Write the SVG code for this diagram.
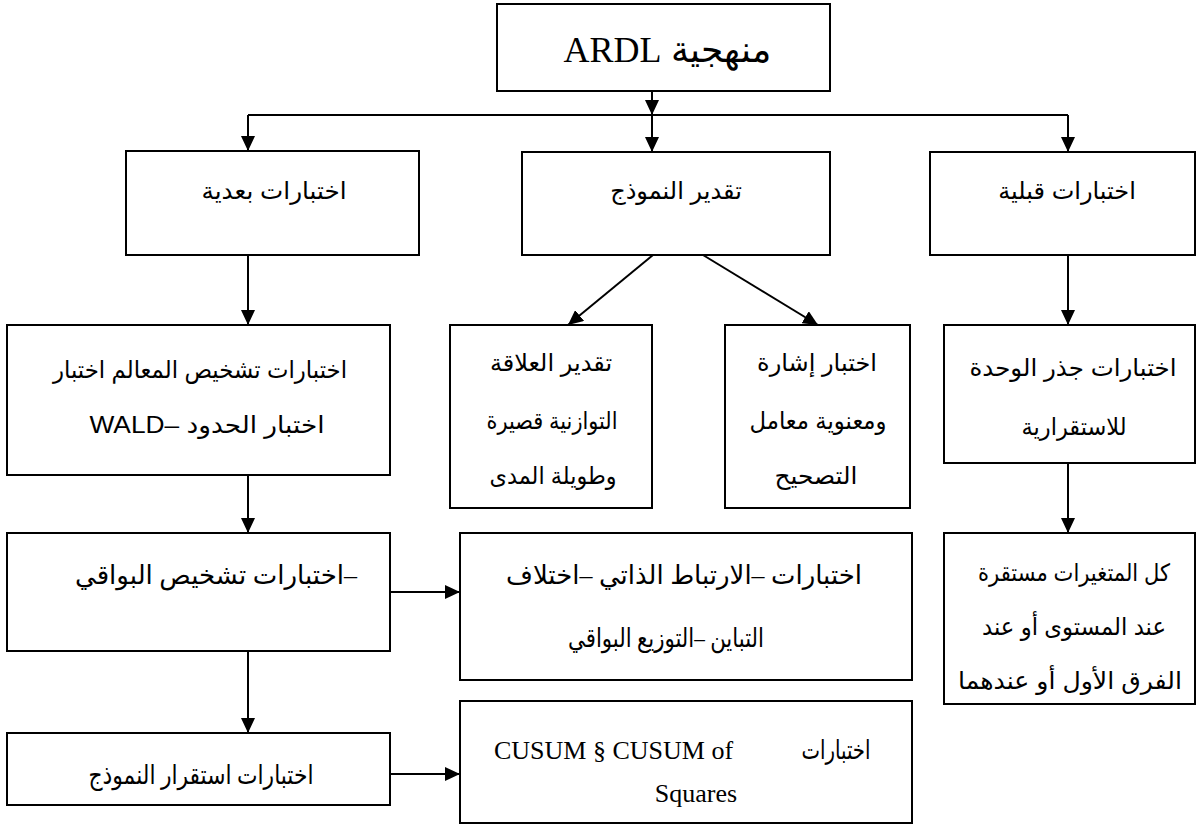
<svg xmlns="http://www.w3.org/2000/svg" width="1200" height="827" viewBox="0 0 1200 827">
  <style>
    .box { fill: #ffffff; stroke: #000000; stroke-width: 2; }
    .link { fill: none; stroke: #000000; stroke-width: 2; marker-end: url(#arrow); }
    .plain { fill: none; stroke: #000000; stroke-width: 2; }
    .ar { font-family: "Liberation Sans", "DejaVu Sans", sans-serif; font-size: 24px; fill: #000000; text-anchor: middle; direction: rtl; unicode-bidi: embed; }
    .arc { font-family: "Liberation Serif", "DejaVu Sans", serif; font-size: 26px; fill: #000000; text-anchor: middle; direction: rtl; unicode-bidi: embed; }
    .lat { font-family: "Liberation Serif", "DejaVu Serif", serif; font-size: 26px; fill: #000000; }
    .title { font-family: "Liberation Serif", "DejaVu Serif", serif; font-size: 36px; fill: #000000; text-anchor: middle; direction: rtl; unicode-bidi: embed; }
  </style>
  <defs>
    <marker id="arrow" markerUnits="userSpaceOnUse" markerWidth="16" markerHeight="14" refX="15" refY="7" orient="auto">
      <path d="M0,0 L15,7 L0,14 Z" fill="#000000"/>
    </marker>
  </defs>

  <rect width="1200" height="827" fill="#ffffff"/>

  <!-- connectors -->
  <g id="connectors">
    <line class="link" x1="652" y1="91" x2="652" y2="115"/>
    <line class="plain" x1="248" y1="115" x2="1068" y2="115"/>
    <line class="link" x1="248" y1="115" x2="248" y2="151"/>
    <line class="link" x1="652" y1="115" x2="652" y2="152"/>
    <line class="link" x1="1068" y1="115" x2="1068" y2="152"/>
    <line class="link" x1="248" y1="255" x2="248" y2="325"/>
    <line class="link" x1="653" y1="255" x2="568" y2="325"/>
    <line class="link" x1="703" y1="255" x2="818" y2="325"/>
    <line class="link" x1="1068" y1="255" x2="1068" y2="325"/>
    <line class="link" x1="248" y1="475" x2="248" y2="533"/>
    <line class="link" x1="1068" y1="463" x2="1068" y2="533"/>
    <line class="link" x1="390" y1="592" x2="460" y2="592"/>
    <line class="link" x1="248" y1="651" x2="248" y2="733"/>
    <line class="link" x1="390" y1="774" x2="460" y2="774"/>
  </g>

  <!-- root -->
  <g id="node-ardl">
    <rect class="box" x="497" y="4" width="333" height="87"/>
    <text class="title" x="667" y="62">منهجية ARDL</text>
  </g>

  <!-- second level -->
  <g id="node-post-tests">
    <rect class="box" x="126" y="151" width="293" height="104"/>
    <text class="ar" x="274" y="199" textLength="145" lengthAdjust="spacingAndGlyphs">اختبارات بعدية</text>
  </g>
  <g id="node-estimation">
    <rect class="box" x="522" y="152" width="308" height="103"/>
    <text class="ar" x="676" y="199">تقدير النموذج</text>
  </g>
  <g id="node-pre-tests">
    <rect class="box" x="930" y="152" width="265" height="103"/>
    <text class="ar" x="1067" y="199">اختبارات قبلية</text>
  </g>

  <!-- third level -->
  <g id="node-params">
    <rect class="box" x="7" y="325" width="383" height="150"/>
    <text class="ar" x="200" y="378" textLength="294" lengthAdjust="spacingAndGlyphs">اختبارات تشخيص المعالم اختبار</text>
    <text class="ar" x="207" y="433" style="direction: ltr;" textLength="235" lengthAdjust="spacingAndGlyphs">WALD– اختبار الحدود</text>
  </g>
  <g id="node-relation">
    <rect class="box" x="450" y="325" width="202" height="183"/>
    <text class="ar" x="551" y="371">تقدير العلاقة</text>
    <text class="ar" x="552" y="429" textLength="131" lengthAdjust="spacingAndGlyphs">التوازنية قصيرة</text>
    <text class="ar" x="553" y="484" textLength="127" lengthAdjust="spacingAndGlyphs">وطويلة المدى</text>
  </g>
  <g id="node-ecm">
    <rect class="box" x="725" y="325" width="185" height="183"/>
    <text class="ar" x="817" y="371">اختبار إشارة</text>
    <text class="ar" x="818" y="429" textLength="137" lengthAdjust="spacingAndGlyphs">ومعنوية معامل</text>
    <text class="ar" x="816" y="484" textLength="83" lengthAdjust="spacingAndGlyphs">التصحيح</text>
  </g>
  <g id="node-unit-root">
    <rect class="box" x="944" y="325" width="251" height="138"/>
    <text class="ar" x="1073" y="376" textLength="207" lengthAdjust="spacingAndGlyphs">اختبارات جذر الوحدة</text>
    <text class="ar" x="1074" y="435" textLength="105" lengthAdjust="spacingAndGlyphs">للاستقرارية</text>
  </g>

  <!-- fourth level -->
  <g id="node-residuals">
    <rect class="box" x="7" y="533" width="383" height="118"/>
    <text class="arc" x="216" y="584" textLength="282" lengthAdjust="spacingAndGlyphs">–اختبارات تشخيص البواقي</text>
  </g>
  <g id="node-residual-tests">
    <rect class="box" x="460" y="533" width="452" height="147"/>
    <text class="arc" x="684" y="584" textLength="356" lengthAdjust="spacingAndGlyphs">اختبارات –الارتباط الذاتي –اختلاف</text>
    <text class="arc" x="666" y="647" textLength="196" lengthAdjust="spacingAndGlyphs">التباين –التوزيع البواقي</text>
  </g>
  <g id="node-stationarity">
    <rect class="box" x="944" y="533" width="251" height="171"/>
    <text class="ar" x="1074" y="581" textLength="192" lengthAdjust="spacingAndGlyphs">كل المتغيرات مستقرة</text>
    <text class="ar" x="1074" y="635" textLength="184" lengthAdjust="spacingAndGlyphs">عند المستوى أو عند</text>
    <text class="ar" x="1070" y="689" textLength="224" lengthAdjust="spacingAndGlyphs">الفرق الأول أو عندهما</text>
  </g>

  <!-- fifth level -->
  <g id="node-stability">
    <rect class="box" x="7" y="733" width="383" height="72"/>
    <text class="arc" x="201" y="784" textLength="225" lengthAdjust="spacingAndGlyphs">اختبارات استقرار النموذج</text>
  </g>
  <g id="node-cusum">
    <rect class="box" x="460" y="701" width="452" height="122"/>
    <text class="lat" x="494" y="759">CUSUM § CUSUM of</text>
    <text class="arc" x="836" y="759" textLength="69" lengthAdjust="spacingAndGlyphs">اختبارات</text>
    <text class="lat" x="696" y="802" text-anchor="middle">Squares</text>
  </g>
</svg>
